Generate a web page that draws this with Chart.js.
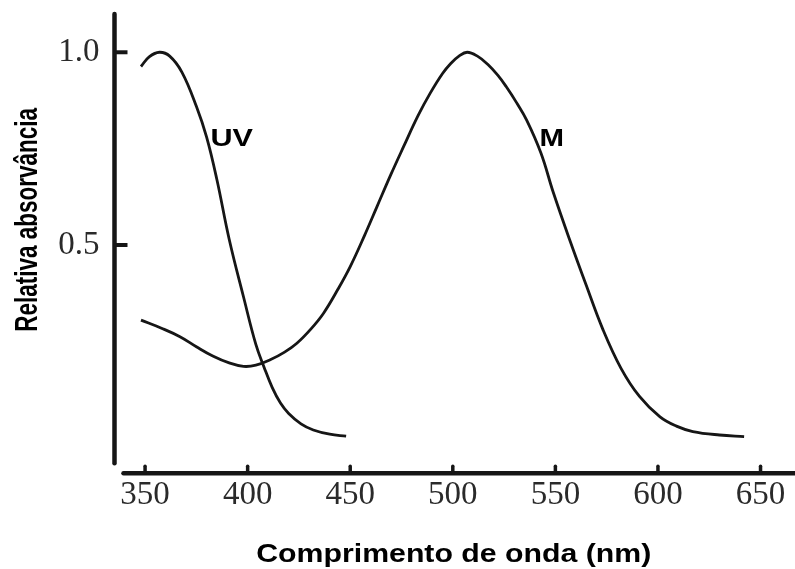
<!DOCTYPE html>
<html>
<head>
<meta charset="utf-8">
<script src="https://cdn.jsdelivr.net/npm/chart.js@4.4.1/dist/chart.umd.min.js"></script>
<style>
  html, body { margin: 0; padding: 0; background: #ffffff; }
  #wrap { width: 795px; height: 569px; position: relative; }
</style>
</head>
<body>
<div id="wrap"><canvas id="c" width="795" height="569"></canvas></div>
<script>
// ---- data ----
const xTicks = [350, 400, 450, 500, 550, 600, 650];
const yTicks = [0.5, 1.0];

const uvWavelength = [348, 352, 357, 362, 368, 375, 380, 385, 391, 398, 404, 408, 412, 416, 420, 426, 432, 440, 448];
const uvAbsorbance = [0.963, 0.988, 1.0, 0.99, 0.948, 0.86, 0.78, 0.67, 0.515, 0.365, 0.242, 0.183, 0.13, 0.09, 0.063, 0.036, 0.02, 0.009, 0.004];

const mWavelength = [348, 358, 367, 375, 383, 391, 398, 404, 411, 418, 424, 431, 437, 444, 450, 457, 463, 470, 476, 483, 489, 495, 499, 503, 507, 512, 517, 522, 526, 531, 536, 543, 549, 557, 565, 573, 582, 591, 601, 609, 617, 630, 642];
const mAbsorbance = [0.305, 0.284, 0.262, 0.236, 0.212, 0.194, 0.185, 0.188, 0.202, 0.222, 0.245, 0.283, 0.323, 0.385, 0.444, 0.525, 0.599, 0.685, 0.755, 0.835, 0.894, 0.945, 0.971, 0.99, 1.0, 0.99, 0.969, 0.94, 0.911, 0.87, 0.824, 0.738, 0.636, 0.513, 0.396, 0.283, 0.18, 0.107, 0.054, 0.03, 0.016, 0.007, 0.003];

const seriesNames = ['UV', 'M'];
const labelX = [381.9, 542.3];
const labelY = [0.757, 0.757];

const xTitle = 'Comprimento de onda (nm)';
const yTitle = 'Relativa absorvância';

// ---- build datasets ----
function pts(xs, ys) { return xs.map((x, i) => ({ x: x, y: ys[i] })); }

const INK = '#161616';
const SANS = "'Liberation Sans', Arial, Helvetica, sans-serif";
const SERIF = "'Liberation Serif', 'Times New Roman', Times, serif";

const decorPlugin = {
  id: 'decor',
  afterDraw(chart) {
    const ctx = chart.ctx;
    const xs = chart.scales.x, ys = chart.scales.y;
    const a = chart.chartArea;
    ctx.save();
    ctx.strokeStyle = INK;
    ctx.lineCap = 'round';
    // y axis line
    ctx.lineWidth = 4.5;
    ctx.beginPath();
    ctx.moveTo(a.left, a.top);
    ctx.lineTo(a.left, a.bottom - 10);
    ctx.stroke();
    // x axis line
    ctx.beginPath();
    ctx.moveTo(a.left + 9, a.bottom);
    ctx.lineTo(a.right + 5, a.bottom);
    ctx.stroke();
    // x tick marks (inward)
    ctx.lineWidth = 3.5;
    xTicks.forEach(v => {
      const px = xs.getPixelForValue(v);
      ctx.beginPath();
      ctx.moveTo(px, a.bottom - 7);
      ctx.lineTo(px, a.bottom);
      ctx.stroke();
    });
    // y tick marks (inward)
    ctx.lineCap = 'butt';
    ctx.lineWidth = 4;
    yTicks.forEach(v => {
      const py = ys.getPixelForValue(v);
      ctx.beginPath();
      ctx.moveTo(a.left, py);
      ctx.lineTo(a.left + 13, py);
      ctx.stroke();
    });

    ctx.fillStyle = '#000';
    function stretched(text, font, x, y, targetW, align) {
      ctx.save();
      ctx.font = font;
      const w = ctx.measureText(text).width;
      const sx = targetW / w;
      ctx.translate(x, y);
      ctx.scale(sx, 1);
      ctx.textAlign = align;
      ctx.textBaseline = 'alphabetic';
      ctx.fillText(text, 0, 0);
      ctx.restore();
    }
    // series labels
    seriesNames.forEach((name, i) => {
      const px = xs.getPixelForValue(labelX[i]);
      const py = ys.getPixelForValue(labelY[i]);
      stretched(name, 'bold 24px ' + SANS, px, py, i === 0 ? 42.5 : 24.5, 'left');
    });
    // x title
    stretched(xTitle, 'bold 26px ' + SANS, (a.left + a.right) / 2 - 1, 562, 395, 'center');
    // y title (rotated, letters stretched across)
    ctx.save();
    ctx.font = 'bold 22.5px ' + SANS;
    ctx.translate(36.5, ys.getPixelForValue(0.565));
    ctx.rotate(-Math.PI / 2);
    ctx.scale(1, 1.38);
    ctx.textAlign = 'center';
    ctx.textBaseline = 'alphabetic';
    ctx.fillText(yTitle, 0, 0);
    ctx.restore();

    ctx.restore();
  }
};

new Chart(document.getElementById('c'), {
  type: 'line',
  data: {
    datasets: [
      { label: seriesNames[0], data: pts(uvWavelength, uvAbsorbance) },
      { label: seriesNames[1], data: pts(mWavelength, mAbsorbance) }
    ]
  },
  options: {
    responsive: false,
    animation: false,
    devicePixelRatio: 1,
    layout: { padding: { top: 14, left: 0, right: 0, bottom: 0 } },
    elements: {
      line: { borderColor: INK, borderWidth: 2.8, tension: 0.4, fill: false, capBezierPoints: true },
      point: { radius: 0, hoverRadius: 0 }
    },
    plugins: { legend: { display: false }, tooltip: { enabled: false } },
    scales: {
      x: {
        type: 'linear',
        min: 335.1,
        max: 666.8,
        afterBuildTicks: s => { s.ticks = xTicks.map(v => ({ value: v })); },
        afterFit: s => { s.height = 95.7; s.paddingLeft = 0; s.paddingRight = 0; },
        grid: { display: false, drawTicks: false },
        border: { display: false },
        ticks: {
          color: '#2a2a2a',
          padding: 2,
          maxRotation: 0,
          autoSkip: false,
          font: { family: SERIF, size: 33 },
          callback: v => String(v)
        }
      },
      y: {
        type: 'linear',
        min: -0.0924,
        max: 1.0993,
        afterBuildTicks: s => { s.ticks = yTicks.map(v => ({ value: v })); },
        afterFit: s => { s.width = 114.5; s.paddingTop = 0; s.paddingBottom = 0; },
        grid: { display: false, drawTicks: false },
        border: { display: false },
        ticks: {
          color: '#2a2a2a',
          padding: 15,
          autoSkip: false,
          font: { family: SERIF, size: 33 },
          callback: v => Number(v).toFixed(1)
        }
      }
    }
  },
  plugins: [decorPlugin]
});
</script>
</body>
</html>
